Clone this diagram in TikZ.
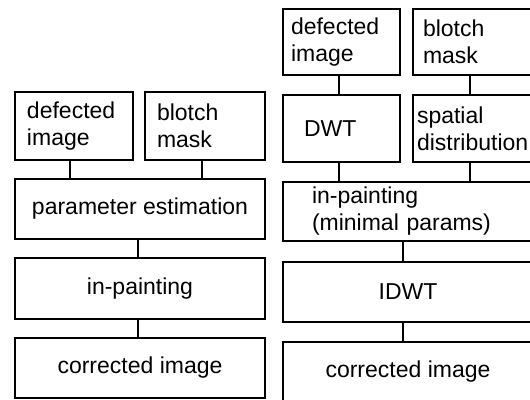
\documentclass[tikz,border=0pt]{standalone}
\usepackage{fontspec}
\setmainfont{Liberation Sans}
\begin{document}
\begin{tikzpicture}[x=1pt,y=-1pt,
  box/.style={draw, line width=1.7pt, inner ysep=0pt, font=\fontsize{23}{27}\selectfont},
  cbox/.style={box, inner xsep=0pt, align=center},
  lbox/.style={box, align=left},
  link/.style={line width=1.7pt}]
\useasboundingbox (0,0) rectangle (530,399);
\clip (0,0) rectangle (530,399);
% left column
\node[lbox, inner xsep=12pt, text width=94pt, minimum height=68pt] (LD) at (74,126) {defected\\image};
\node[lbox, inner xsep=12pt, text width=96pt, minimum height=68pt] (LB) at (205,126) {blotch\\mask};
\node[cbox, minimum width=250pt, minimum height=60pt] (LP) at (140,209) {parameter estimation};
\node[cbox, minimum width=250pt, minimum height=61pt] (LI) at (140,288.5) {in-painting};
\node[cbox, minimum width=250pt, minimum height=60pt] (LC) at (140,368) {corrected image};
% right column
\node[lbox, inner xsep=8pt, text width=101pt, minimum height=66pt] (RD) at (341.5,42) {defected\\image};
\node[lbox, inner xsep=10pt, text width=100pt, minimum height=66pt] (RB) at (473,42) {blotch\\mask};
\node[lbox, inner xsep=21pt, text width=75pt, minimum height=67pt] (RW) at (341.5,128.5) {DWT};
\node[lbox, inner xsep=4pt, text width=112pt, minimum height=67pt] (RS) at (473,128.5) {spatial\\distribution};
\node[lbox, inner xsep=29pt, text width=192pt, minimum height=59pt] (RI) at (408,211.5) {in-painting\\(minimal params)};
\node[cbox, minimum width=250pt, minimum height=60pt] (RT) at (408,292) {IDWT};
\node[cbox, minimum width=250pt, minimum height=60pt] (RC) at (408,372) {corrected image};
% connectors left
\draw[link] ([xshift=-4pt]LD.south) -- ([xshift=-4pt]LD.south |- LP.north);
\draw[link] ([xshift=-3pt]LB.south) -- ([xshift=-3pt]LB.south |- LP.north);
\draw[link] ([xshift=-2pt]LP.south) -- ([xshift=-2pt]LP.south |- LI.north);
\draw[link] ([xshift=-2pt]LI.south) -- ([xshift=-2pt]LI.south |- LC.north);
% connectors right
\draw[link] ([xshift=-2.5pt]RD.south) -- ([xshift=-2.5pt]RD.south |- RW.north);
\draw[link] ([xshift=-3pt]RB.south) -- ([xshift=-3pt]RB.south |- RS.north);
\draw[link] ([xshift=-2.5pt]RW.south) -- ([xshift=-2.5pt]RW.south |- RI.north);
\draw[link] ([xshift=-3pt]RS.south) -- ([xshift=-3pt]RS.south |- RI.north);
\draw[link] ([xshift=-5pt]RI.south) -- ([xshift=-5pt]RI.south |- RT.north);
\draw[link] ([xshift=-5pt]RT.south) -- ([xshift=-5pt]RT.south |- RC.north);
\end{tikzpicture}
\end{document}
